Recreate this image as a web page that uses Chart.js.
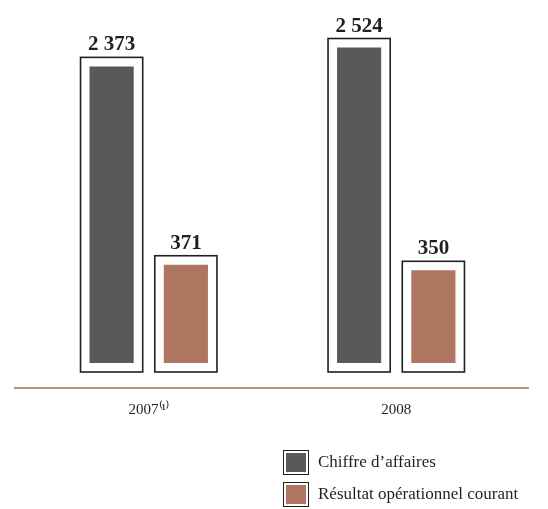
<!DOCTYPE html>
<html>
<head>
<meta charset="utf-8">
<script src="https://cdn.jsdelivr.net/npm/chart.js@4"></script>
<style>
  html, body { margin: 0; padding: 0; background: #fff; }
  #wrap { position: relative; width: 548px; height: 509px; }
  #legend { position: absolute; left: 283px; top: 450px; font-family: "Liberation Serif", serif; font-size: 17px; color: #231f20; }
  .item { display: flex; align-items: center; height: 24px; margin-bottom: 8px; }
  .box { width: 20px; height: 19px; border: 1.5px solid #231f20; padding: 2px; box-sizing: content-box; margin-right: 9px; }
  .box span { display: block; width: 100%; height: 100%; }
</style>
</head>
<body>
<div id="wrap">
  <canvas id="chart" width="548" height="509"></canvas>
  <div id="legend"></div>
</div>
<script>
// Chiffre d'affaires / Résultat opérationnel courant (M€)
const years = ['2007\u207D\u00B9\u207E', '2008'];
const chiffreAffaires = [2373, 2524];
const resultatOp = [371, 350];

const COLORS = {
  ca: '#58595b',
  roc: '#ae7660',
  frame: '#231f20',
  axis: '#b5664e',
  text: '#231f20'
};

const seriesNames = ['Chiffre d\u2019affaires', 'R\u00e9sultat op\u00e9rationnel courant'];

function fmt(v) {
  return String(v).replace(/\B(?=(\d{3})+(?!\d))/g, ' ');
}

// frame around each bar + value label + red base line
const framePlugin = {
  id: 'frames',
  afterDatasetsDraw(chart) {
    const ctx = chart.ctx;
    const gap = 9;
    ctx.save();
    chart.data.datasets.forEach((ds, i) => {
      chart.getDatasetMeta(i).data.forEach((bar, j) => {
        const w = bar.width;
        ctx.strokeStyle = COLORS.frame;
        ctx.lineWidth = 1.6;
        ctx.strokeRect(bar.x - w / 2 - gap, bar.y - gap, w + gap * 2, bar.base - bar.y + gap * 2);
        ctx.fillStyle = COLORS.text;
        ctx.font = 'bold 21px "Liberation Serif", serif';
        ctx.textAlign = 'center';
        ctx.textBaseline = 'alphabetic';
        ctx.fillText(fmt(ds.data[j]), bar.x, bar.y - 16);
      });
    });
    const a = chart.chartArea;
    ctx.strokeStyle = COLORS.axis;
    ctx.lineWidth = 1.5;
    ctx.beginPath();
    ctx.moveTo(14, a.bottom + 25);
    ctx.lineTo(529, a.bottom + 25);
    ctx.stroke();
    ctx.restore();
  }
};

new Chart(document.getElementById('chart'), {
  type: 'bar',
  data: {
    labels: years,
    datasets: [
      { label: seriesNames[0], data: chiffreAffaires, backgroundColor: COLORS.ca, yAxisID: 'y' },
      { label: seriesNames[1], data: resultatOp, backgroundColor: COLORS.roc, yAxisID: 'y2' }
    ]
  },
  options: {
    responsive: false,
    animation: false,
    layout: { padding: { left: 25, right: 28, top: 20, bottom: 52 } },
    datasets: { bar: { categoryPercentage: 0.6, barPercentage: 0.595 } },
    plugins: { legend: { display: false }, tooltip: { enabled: false } },
    scales: {
      x: {
        grid: { display: false, drawTicks: false },
        border: { display: false },
        ticks: { color: COLORS.text, padding: 38, font: { family: '"Liberation Serif", serif', size: 15 } }
      },
      y: { display: false, min: 0, max: 2744 },
      y2: { display: false, min: 0, max: 1295 }
    }
  },
  plugins: [framePlugin]
});

document.getElementById('legend').innerHTML = seriesNames.map((n, i) => `
  <div class="item">
    <div class="box"><span style="background:${i === 0 ? COLORS.ca : COLORS.roc}"></span></div>
    <div>${n}</div>
  </div>`).join('');
</script>
</body>
</html>
